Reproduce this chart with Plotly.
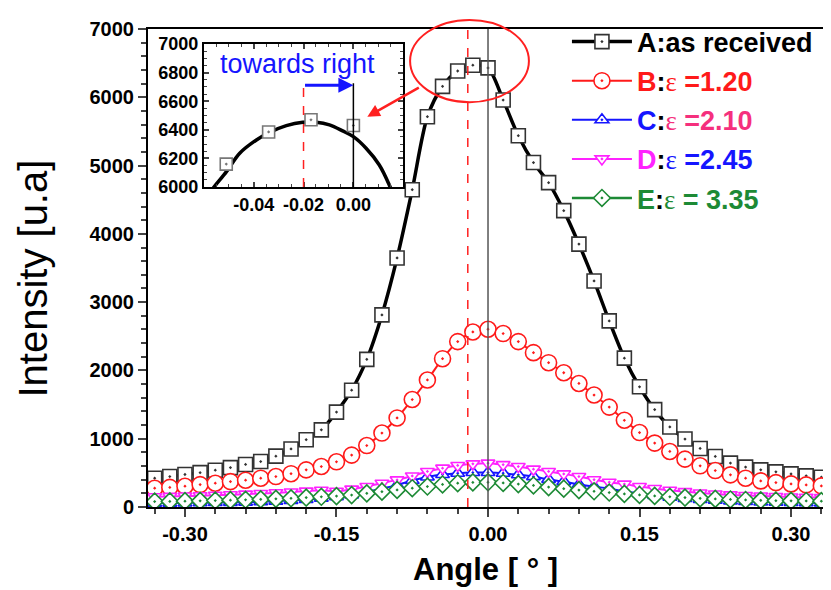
import plotly.graph_objects as go

# ---------------- data ----------------
k_steps = list(range(-22, 23))
angle = [round(k * 0.015, 4) for k in k_steps]  # 0.015 deg steps

A_as_received = [422, 446, 476, 503, 539, 577, 623, 666, 745, 850, 985, 1130, 1390, 1710,
                 2162, 2813, 3647, 4647, 5716, 6160, 6385, 6470, 6430, 5960, 5437, 5044,
                 4750, 4340, 3850, 3310, 2725, 2180, 1760, 1426, 1172, 995, 857, 740, 643,
                 584, 544, 515, 485, 456, 436]
B_eps_120 = [275, 287, 304, 328, 348, 372, 392, 422, 446, 488, 544, 593, 662, 760, 900, 1083,
             1304, 1574, 1860, 2172, 2422, 2563, 2603, 2540, 2422, 2260, 2113, 1966, 1809,
             1640, 1463, 1270, 1090, 936, 813, 701, 603, 534, 471, 422, 382, 357, 338, 324, 309]
C_eps_210 = [55, 57, 59, 62, 65, 68, 72, 78, 86, 96, 110, 128, 150, 176, 222, 270, 320, 390,
             440, 475, 495, 505, 505, 495, 472, 445, 405, 372, 330, 300, 270, 228, 200, 170,
             145, 125, 110, 98, 88, 80, 74, 70, 66, 63, 60]
D_eps_245 = [150, 155, 160, 165, 172, 180, 188, 197, 208, 220, 232, 245, 230, 262, 300, 348,
             397, 455, 520, 569, 608, 632, 642, 620, 593, 554, 520, 485, 446, 400, 363, 335,
             300, 270, 245, 225, 205, 190, 178, 168, 160, 153, 147, 142, 138]
E_eps_335 = [80, 82, 86, 90, 95, 100, 106, 112, 120, 128, 138, 150, 160, 175, 200, 225, 250,
             275, 300, 330, 348, 360, 362, 352, 335, 315, 292, 268, 248, 230, 212, 192, 176,
             162, 150, 138, 127, 118, 110, 103, 98, 93, 90, 88, 86]

# inset: zoomed peak of A and the fitted curve
inset_pts_x = [-0.051, -0.034, -0.017, 0.0]
inset_pts_y = [6160, 6385, 6470, 6430]
fit_x = [-0.060, -0.0563, -0.0509, -0.0456, -0.0389, -0.0336, -0.0269, -0.0203, -0.0149,
         -0.0096, -0.0043, 0.0, 0.0051, 0.0104, 0.0144, 0.018]
fit_y = [5900, 5991, 6107, 6236, 6329, 6382, 6429, 6452, 6452, 6434, 6392, 6352, 6271, 6154,
         6014, 5850]

peak_ref = 0.0
peak_shift = -0.02

x_tick_vals = [-0.30, -0.15, 0.0, 0.15, 0.30]
x_tick_text = ['-0.30', '-0.15', '0.00', '0.15', '0.30']
inset_x_tick_vals = [-0.04, -0.02, 0.0]
inset_x_tick_text = ['-0.04', '-0.02', '0.00']

names = [
    '<b>A:as received</b>',
    '<b><span style="color:#ff1a1a">B</span>:<span style="color:#ff1a1a;font-family:Liberation Serif;font-weight:normal">ε</span><span style="color:#ff1a1a"> =1.20</span></b>',
    '<b><span style="color:#1515ff">C</span>:<span style="color:#f5307d;font-family:Liberation Serif;font-weight:normal">ε</span><span style="color:#f5307d"> =2.10</span></b>',
    '<b><span style="color:#ff22ff">D</span>:<span style="color:#1515ff;font-family:Liberation Serif;font-weight:normal">ε</span><span style="color:#1515ff"> =2.45</span></b>',
    '<b><span style="color:#1d8a35">E</span>:<span style="color:#1d8a35;font-family:Liberation Serif;font-weight:normal">ε</span><span style="color:#1d8a35"> = 3.35</span></b>',
]
series = [A_as_received, B_eps_120, C_eps_210, D_eps_245, E_eps_335]
colors = ['#000000', '#ff1a1a', '#1515ff', '#ff22ff', '#1d8a35']
mk_line = ['#333333', '#ff1a1a', '#1515ff', '#ff22ff', '#1d8a35']
symbols = ['square-dot', 'circle-dot', 'triangle-up-dot', 'triangle-down-dot', 'diamond-dot']
sizes = [14, 16, 12, 12, 13]
widths = [3.5, 2, 2, 2, 2.5]

FONT = 'Arial, Liberation Sans, sans-serif'

fig = go.Figure()
for i in range(5):
    fig.add_trace(go.Scatter(
        x=angle, y=series[i], name=names[i], mode='lines+markers',
        line=dict(color=colors[i], width=widths[i], shape='spline', smoothing=0.8),
        marker=dict(symbol=symbols[i], size=sizes[i], color='white',
                    line=dict(color=mk_line[i], width=1.6)),
        legendgroup=str(i), cliponaxis=True,
    ))

# inset traces
fig.add_trace(go.Scatter(x=fit_x, y=fit_y, mode='lines', xaxis='x2', yaxis='y2',
                         line=dict(color='black', width=3.5, shape='spline'),
                         showlegend=False))
fig.add_trace(go.Scatter(x=inset_pts_x, y=inset_pts_y, mode='markers', xaxis='x2', yaxis='y2',
                         marker=dict(symbol='square-dot', size=12, color='white',
                                     line=dict(color='#777777', width=1.6)),
                         showlegend=False))

shapes = [
    dict(type='line', xref='x', yref='y', x0=peak_ref, x1=peak_ref, y0=0, y1=7000,
         line=dict(color='#555555', width=1.5)),
    dict(type='line', xref='x', yref='y', x0=peak_shift, x1=peak_shift, y0=0, y1=7000,
         line=dict(color='#ff2020', width=1.5, dash='dash')),
    dict(type='line', xref='x2', yref='y2', x0=peak_shift, x1=peak_shift, y0=6000, y1=6700,
         line=dict(color='#ff2020', width=1.5, dash='dash')),
    dict(type='line', xref='x2', yref='y2', x0=peak_ref, x1=peak_ref, y0=6000, y1=6725,
         line=dict(color='black', width=1.5)),
    dict(type='circle', xref='paper', yref='paper', x0=0.386, x1=0.561, y0=0.847, y1=1.019,
         line=dict(color='#ff2020', width=2)),
]

annotations = [
    dict(xref='x2', yref='y2', x=peak_ref, y=6712, ax=peak_shift, ay=6712, axref='x2', ayref='y2',
         showarrow=True, arrowhead=2, arrowsize=1, arrowwidth=3, arrowcolor='#1515ff', text=''),
    dict(xref='x2', yref='y2', x=-0.0224, y=6860, text='towards right', showarrow=False,
         font=dict(family=FONT, size=27, color='#1515ff')),
    dict(xref='paper', yref='paper', x=0.323, y=0.8165, ax=53, ay=-30, showarrow=True,
         arrowhead=2, arrowsize=1, arrowwidth=2.5, arrowcolor='#ff2020', text=''),
    dict(xref='paper', yref='paper', x=-0.170, y=0.477, xanchor='center', yanchor='middle',
         text='Intensity [u.a]', textangle=-90,
         showarrow=False, font=dict(family=FONT, size=40, color='black')),
    dict(xref='paper', yref='paper', x=0.497, y=-0.130, xanchor='center', yanchor='middle',
         text='<b>Angle [ ° ]</b>',
         showarrow=False, font=dict(family=FONT, size=31, color='black')),
]

fig.update_layout(
    width=823, height=582,
    margin=dict(l=140, r=2, t=21, b=83),
    paper_bgcolor='white', plot_bgcolor='white',
    font=dict(family=FONT, color='black'),
    showlegend=True,
    legend=dict(x=0.617, y=1.024, xanchor='left', yanchor='top', bgcolor='rgba(0,0,0,0)',
                font=dict(family=FONT, size=27, color='black'),
                tracegroupgap=1, itemwidth=60),
    xaxis=dict(range=[-0.3366, 0.3356], tickmode='array', tickvals=x_tick_vals, ticktext=x_tick_text,
               ticks='outside', ticklen=8, tickwidth=2, linecolor='black', linewidth=2,
               mirror=True, showgrid=False, zeroline=False,
               tickfont=dict(family=FONT, size=20, weight='bold'),
               minor=dict(tickmode='linear', tick0=0, dtick=0.03, ticks='outside', ticklen=5,
                          tickwidth=1.5, showgrid=False)),
    yaxis=dict(range=[0, 7000], dtick=1000, ticks='outside', ticklen=8, tickwidth=2,
               linecolor='black', linewidth=2, mirror=True, showgrid=False, zeroline=False,
               tickfont=dict(family=FONT, size=20, weight='bold'),
               minor=dict(dtick=200, ticks='outside', ticklen=5, tickwidth=1.5, showgrid=False)),
    xaxis2=dict(domain=[0.0822, 0.3759], anchor='y2', range=[-0.06, 0.02], tickmode='array',
                tickvals=inset_x_tick_vals, ticktext=inset_x_tick_text, ticks='inside', ticklen=5,
                tickwidth=1.5, linecolor='black', linewidth=2, mirror='allticks', showgrid=False,
                zeroline=False, tickfont=dict(family=FONT, size=18, weight='bold'),
                minor=dict(tickmode='linear', tick0=0, dtick=0.005, ticks='inside', ticklen=3,
                           tickwidth=1)),
    yaxis2=dict(domain=[0.6695, 0.9686], anchor='x2', range=[6000, 7000], dtick=200,
                ticks='inside', ticklen=5, tickwidth=1.5, linecolor='black', linewidth=2,
                mirror='allticks', showgrid=False, zeroline=False,
                tickfont=dict(family=FONT, size=18, weight='bold'),
                minor=dict(dtick=50, ticks='inside', ticklen=3, tickwidth=1)),
    shapes=shapes, annotations=annotations,
)

fig.write_html('out.html')
